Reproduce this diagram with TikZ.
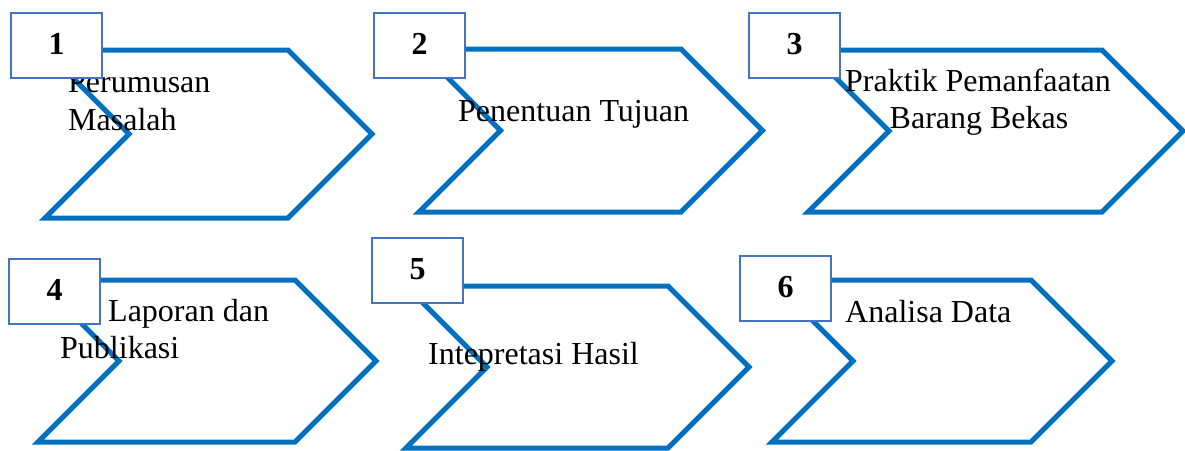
\documentclass[tikz,border=0pt]{standalone}
\usepackage{fontspec}
\setmainfont{Liberation Serif}
\definecolor{chevblue}{HTML}{0070C0}
\definecolor{boxblue}{HTML}{4472C4}
\tikzset{
  chevline/.style={draw=chevblue, line width=5pt, line join=miter},
  numbox/.style={draw=boxblue, fill=white, line width=2pt, minimum width=91pt, minimum height=65pt,
    anchor=north west, inner sep=0pt, font=\fontsize{32}{38}\selectfont\bfseries,
    text height=21.6pt, text depth=4.6pt},
  steptext/.style={anchor=base west, inner sep=0pt, font=\fontsize{32}{38}\selectfont},
  steptextc/.style={anchor=base, inner sep=0pt, font=\fontsize{32}{38}\selectfont}
}
% #1 L, #2 T, #3 R, #4 B
\newcommand\chevshape[4]{%
  \draw[chevline] (#1,#2) -- (#3,#2) -- ({#3+(#4-#2)/2},{(#2+#4)/2}) -- (#3,#4) -- (#1,#4)
    -- ({#1+(#4-#2)/2},{(#2+#4)/2}) -- cycle;}
\begin{document}
\begin{tikzpicture}[x=1pt, y=-1pt]
\useasboundingbox (0,0) rectangle (1185,450);
% chevrons
\chevshape{45}{50}{288}{218}
\chevshape{419}{49}{681}{212}
\chevshape{808}{50}{1102}{212}
\chevshape{38}{280}{295}{442}
\chevshape{406}{286}{668}{448}
\chevshape{772}{280}{1031}{442}
% texts
\node[steptext] (t1a) at (68,92) {Perumusan};
\node[steptext] (t1b) at (68,130) {Masalah};
\node[steptext] (t2) at (458,121) {Penentuan Tujuan};
\node[steptextc] (t3a) at (978,91) {Praktik Pemanfaatan};
\node[steptextc] (t3b) at (979,128) {Barang Bekas};
\node[steptext] (t4a) at (108,321) {Laporan dan};
\node[steptext] (t4b) at (60,358) {Publikasi};
\node[steptext] (t5) at (428,364) {Intepretasi Hasil};
\node[steptext] (t6) at (845,322) {Analisa Data};
% number boxes
\node[numbox] (b1) at (10,12) {1};
\node[numbox] (b2) at (373,12) {2};
\node[numbox] (b3) at (748,12) {3};
\node[numbox] (b4) at (8,258) {4};
\node[numbox] (b5) at (371,237) {5};
\node[numbox] (b6) at (739,255) {6};
\end{tikzpicture}
\end{document}
